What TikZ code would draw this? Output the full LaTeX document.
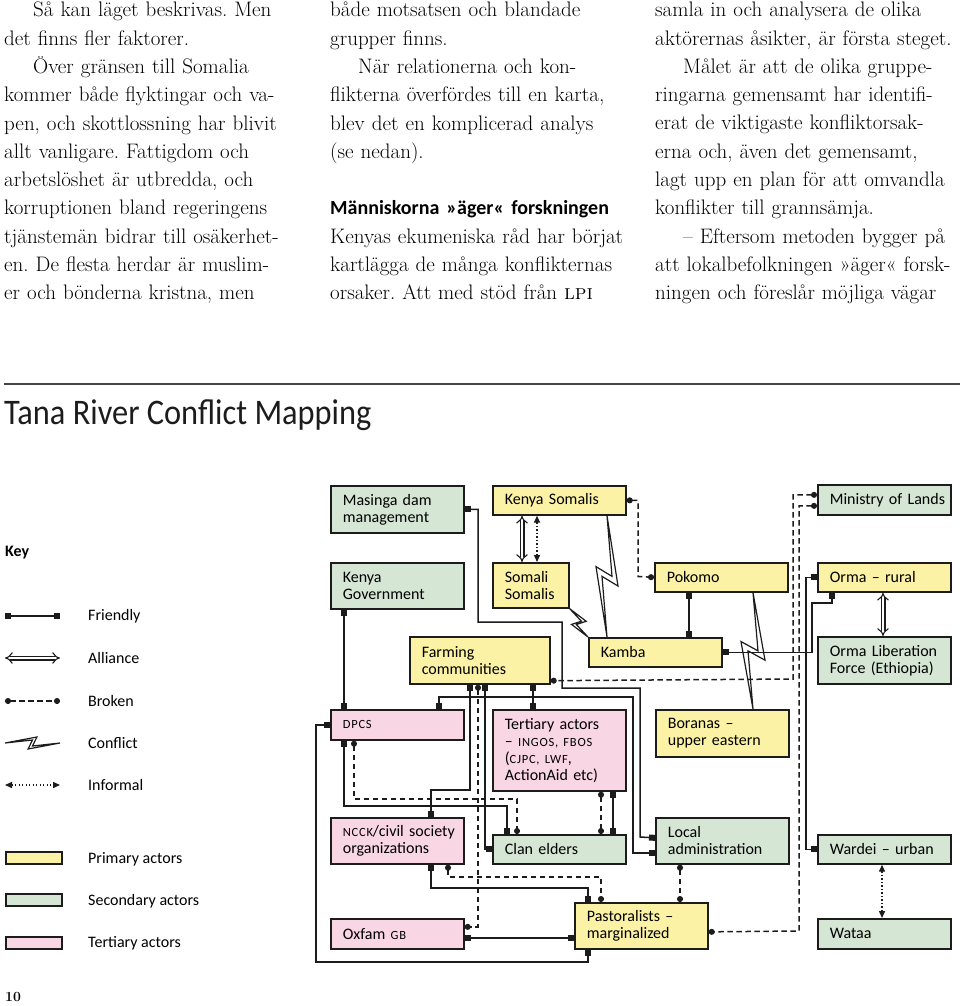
\documentclass[tikz,border=0pt]{standalone}
\usepackage{fontspec}
\setsansfont{Carlito}
\usetikzlibrary{arrows.meta,calc}

\definecolor{primaryfill}{HTML}{FBF2A6}
\definecolor{secondaryfill}{HTML}{D5E6D4}
\definecolor{tertiaryfill}{HTML}{F9D6E3}
\definecolor{ink}{HTML}{1C1C1C}
\definecolor{rulegray}{HTML}{444444}

\newcommand{\bodyfont}{\fontsize{21}{28.3}\selectfont\frenchspacing}
\newcommand{\boxfont}{\sffamily\fontsize{16}{17}\selectfont\hyphenpenalty=10000 }
\newcommand{\smcp}[1]{{\fontsize{12.5}{17}\selectfont\addfontfeature{LetterSpace=6}\MakeUppercase{#1}}}
% lightning between two named points: from, to, zig size, notch size
\newcommand{\conflictbolt}[4]{%
  \draw[conflict] (#1) -- ($(#1)!.58!(#2)!#3!90:(#2)$) -- ($(#1)!.5!(#2)!#4!-90:(#2)$) -- (#2)
    -- ($(#1)!.42!(#2)!#3!-90:(#2)$) -- ($(#1)!.5!(#2)!#4!90:(#2)$) -- cycle;}

\tikzset{
  textcol/.style={anchor=north west, inner sep=0pt, text width=330pt, align=left, font=\bodyfont},
  actor/.style={draw=ink, line width=1.7pt, anchor=north west, minimum height=#1, text width=109pt,
    inner xsep=12pt, inner ysep=0pt, align=left, font=\boxfont},
  primary/.style={actor=#1, fill=primaryfill},
  secondary/.style={actor=#1, fill=secondaryfill},
  tertiary/.style={actor=#1, fill=tertiaryfill},
  keylabel/.style={anchor=west, inner sep=0pt, font=\boxfont},
  swatch/.style={draw=ink, line width=1.7pt, anchor=north west, minimum width=56pt, minimum height=12pt, inner sep=0pt},
  friendly/.style={draw=ink, line width=1.5pt, {Square[length=6pt,width=6pt]}-{Square[length=6pt,width=6pt]}},
  broken/.style={draw=ink, line width=1.5pt, dash pattern=on 5.5pt off 3.5pt, {Circle[length=6pt]}-{Circle[length=6pt]}},
  informal/.style={draw=ink, line width=1.4pt, dash pattern=on 1.3pt off 2.2pt,
    {Triangle[length=7pt,width=6pt]}-{Triangle[length=7pt,width=6pt]}},
  alliance/.style={draw=ink, double=white, double distance=2.8pt, line width=1.1pt, {Implies}-{Implies}},
  conflict/.style={draw=ink, line width=1.2pt, line join=miter},
}

\begin{document}
\begin{tikzpicture}[x=1pt, y=-1pt]
\useasboundingbox (0,0) rectangle (960,1006);

% article text
\node[textcol] (col1) at (4,2) {\hspace*{29pt}Så kan läget beskrivas. Men\\
det finns fler faktorer.\\
\hspace*{29pt}Över gränsen till Somalia\\
kommer både flyktingar och va-\\
pen, och skottlossning har blivit\\
allt vanligare. Fattigdom och\\
arbetslöshet är utbredda, och\\
korruptionen bland regeringens\\
tjänstemän bidrar till osäkerhet-\\
en. De flesta herdar är muslim-\\
er och bönderna kristna, men};
\node[textcol] (col2) at (330,2) {både motsatsen och blandade\\
grupper finns.\\
\hspace*{28pt}När relationerna och kon-\\
flikterna överfördes till en karta,\\
blev det en komplicerad analys\\
(se nedan).\\[28.3pt]
{\sffamily\bfseries\fontsize{20}{28.3}\selectfont Människorna »äger« forskningen}\\
Kenyas ekumeniska råd har börjat\\
kartlägga de många konflikternas\\
orsaker. Att med stöd från \textsc{lpi}};
\node[textcol] (col3) at (655,2) {samla in och analysera de olika\\
aktörernas åsikter, är första steget.\\
\hspace*{28pt}Målet är att de olika gruppe-\\
ringarna gemensamt har identifi-\\
erat de viktigaste konfliktorsak-\\
erna och, även det gemensamt,\\
lagt upp en plan för att omvandla\\
konflikter till grannsämja.\\
\hspace*{28pt}– Eftersom metoden bygger på\\
att lokalbefolkningen »äger« forsk-\\
ningen och föreslår möjliga vägar};

\coordinate (rule-a) at (4,384);
\coordinate (rule-b) at (960,384);
\draw[rulegray, line width=2.2pt] (rule-a) -- (rule-b);
\node[anchor=west, inner sep=0pt, text=ink, font=\sffamily\fontsize{36}{36}\selectfont, xscale=0.9, transform shape] (title) at (4,415) {Tana River Conflict Mapping};

% key
\node[anchor=west, inner sep=0pt, font=\sffamily\bfseries\fontsize{16}{17}\selectfont] (keyhead) at (5,553) {Key};
\coordinate (kfa) at (5,616); \coordinate (kfb) at (60,616);
\draw[friendly] (kfa) -- (kfb);
\node[keylabel] (kfriendly) at (88,616) {Friendly};
\coordinate (kaa) at (5,658); \coordinate (kab) at (60,658);
\draw[alliance] (kaa) -- (kab);
\node[keylabel] (kalliance) at (88,658) {Alliance};
\coordinate (kba) at (5,701); \coordinate (kbb) at (60,701);
\draw[broken] (kba) -- (kbb);
\node[keylabel] (kbroken) at (88,701) {Broken};
\coordinate (kca) at (5,743); \coordinate (kcb) at (60,743);
\conflictbolt{kca}{kcb}{6pt}{3pt}
\node[keylabel] (kconflict) at (88,743) {Conflict};
\coordinate (kia) at (5,785); \coordinate (kib) at (60,785);
\draw[informal] (kia) -- (kib);
\node[keylabel] (kinformal) at (88,785) {Informal};
\node[swatch, fill=primaryfill] (swprimary) at (5,851) {};
\node[keylabel] (kprimary) at (88,859) {Primary actors};
\node[swatch, fill=secondaryfill] (swsecondary) at (5,893) {};
\node[keylabel] (ksecondary) at (88,901) {Secondary actors};
\node[swatch, fill=tertiaryfill] (swtertiary) at (5,936) {};
\node[keylabel] (ktertiary) at (88,943) {Tertiary actors};

% actors
\node[secondary=47pt] (masinga) at (330,485) {Masinga dam\\management};
\node[primary=29pt] (ksom) at (492,485) {Kenya~Somalis};
\node[secondary=30pt] (ministry) at (817,484) {Ministry~of~Lands};
\node[secondary=46pt] (kgov) at (330,562) {Kenya\\Government};
\node[primary=45pt, text width=52pt] (ssom) at (492,562) {Somali\\Somalis};
\node[primary=29pt] (pokomo) at (654,562) {Pokomo};
\node[primary=29pt] (orma) at (817,562) {Orma~–~rural};
\node[primary=47pt, text width=116pt] (farming) at (409,636) {Farming\\communities};
\node[primary=29pt] (kamba) at (588,637) {Kamba};
\node[secondary=47pt] (olf) at (817,636) {Orma~Liberation\\Force~(Ethiopia)};
\node[tertiary=30pt] (dpcs) at (330,709) {\smcp{dpcs}};
\node[tertiary=81pt] (tactors) at (492,709) {Tertiary~actors\\–~\smcp{ingos,~fbos}\\(\smcp{cjpc,~lwf},\\ActionAid~etc)};
\node[primary=47pt] (boranas) at (655,709) {Boranas~–\\upper~eastern};
\node[tertiary=46pt] (ncck) at (330,817) {\smcp{ncck}/civil~society\\organizations};
\node[secondary=29pt] (clan) at (492,834) {Clan~elders};
\node[secondary=46pt] (local) at (655,817) {Local\\administration};
\node[secondary=29pt] (wardei) at (817,834) {Wardei~–~urban};
\node[primary=46pt] (pastoral) at (574,902) {Pastoralists~–\\marginalized};
\node[tertiary=30pt] (oxfam) at (330,918) {Oxfam~\smcp{gb}};
\node[secondary=30pt] (wataa) at (817,918) {Wataa};

% friendly ties
\draw[friendly] ([xshift=14pt]kgov.south west) -- ([xshift=14pt]dpcs.north west);
\draw[friendly] (masinga.east) -| (478,622) -| (562,688) -| (640,837) -- ([yshift=3pt]local.west);
\draw[friendly] ([xshift=109pt]dpcs.north west) |- (633,697) |- ([yshift=-12pt]local.west);
\draw[friendly] (dpcs.west) -| (316,962) -| ([xshift=14pt]pastoral.south west);
\draw[friendly] ([xshift=35pt]pokomo.south west) -- ([xshift=101pt]kamba.north west);
\draw[friendly] (kamba.east) -| (812,603) -| ([xshift=15pt]orma.south west);
\draw[friendly] (orma.west) -- ++(-11,0) |- (wardei.west);
\draw[friendly] ([xshift=61pt]farming.south west) |- (431,790) -- ([xshift=101pt]ncck.north west);
\draw[friendly] ([xshift=76pt]farming.south west) |- (clan.west);
\draw[friendly] ([xshift=124pt]farming.south west) -- ([xshift=41pt]tactors.north west);
\draw[friendly] ([xshift=14pt]dpcs.south west) |- (507,806) -- ([xshift=15pt]clan.north west);
\draw[friendly] ([xshift=121pt]tactors.south west) -- ([xshift=121pt]clan.north west);
\draw[friendly] ([xshift=101pt]ncck.south west) |- (588,888) -- ([xshift=14pt]pastoral.north west);
\draw[friendly] ([yshift=-4pt]oxfam.east) -- ([yshift=-12pt]pastoral.west);

% broken ties
\draw[broken] (ksom.east) -| (638,576.5) -- (pokomo.west);
\draw[broken] ([yshift=5pt]ministry.west) -| (793,679) -- ([yshift=4pt]farming.south east);
\draw[broken] ([yshift=-6pt]ministry.west) -| (799,931) -- ([yshift=-6pt]pastoral.east);
\draw[broken] ([xshift=69pt]farming.south west) |- ([yshift=7pt]oxfam.east);
\draw[broken] ([xshift=24pt]dpcs.south west) |- (517,799) -- ([xshift=25pt]clan.north west);
\draw[broken] ([xshift=109pt]tactors.south west) -- ([xshift=109pt]clan.north west);
\draw[broken] ([xshift=118pt]ncck.south west) |- (601,877) -- ([xshift=27pt]pastoral.north west);
\draw[broken] ([xshift=25pt]local.south west) -- ([xshift=106pt]pastoral.north west);

% alliances and informal ties
\draw[alliance] ([xshift=30pt]ksom.south west) -- ([xshift=30pt]ssom.north west);
\draw[informal] ([xshift=45pt]ksom.south west) -- ([xshift=45pt]ssom.north west);
\draw[alliance] ([xshift=66pt]orma.south west) -- ([xshift=66pt]olf.north west);
\draw[informal] ([xshift=65pt]wardei.south west) -- ([xshift=65pt]wataa.north west);

% conflicts
\coordinate (ks-bolt) at ([xshift=115pt]ksom.south west);
\coordinate (ka-bolt) at ([xshift=19pt]kamba.north west);
\conflictbolt{ks-bolt}{ka-bolt}{11pt}{5pt}
\conflictbolt{ssom.south east}{kamba.north west}{7pt}{3pt}
\coordinate (po-bolt) at ([xshift=99pt]pokomo.south west);
\coordinate (bo-bolt) at ([xshift=98pt]boranas.north west);
\conflictbolt{po-bolt}{bo-bolt}{12pt}{5pt}

\node[anchor=north west, inner sep=0pt, font=\bfseries\fontsize{14}{14}\selectfont] (folio) at (5,992) {10};
\end{tikzpicture}
\end{document}
